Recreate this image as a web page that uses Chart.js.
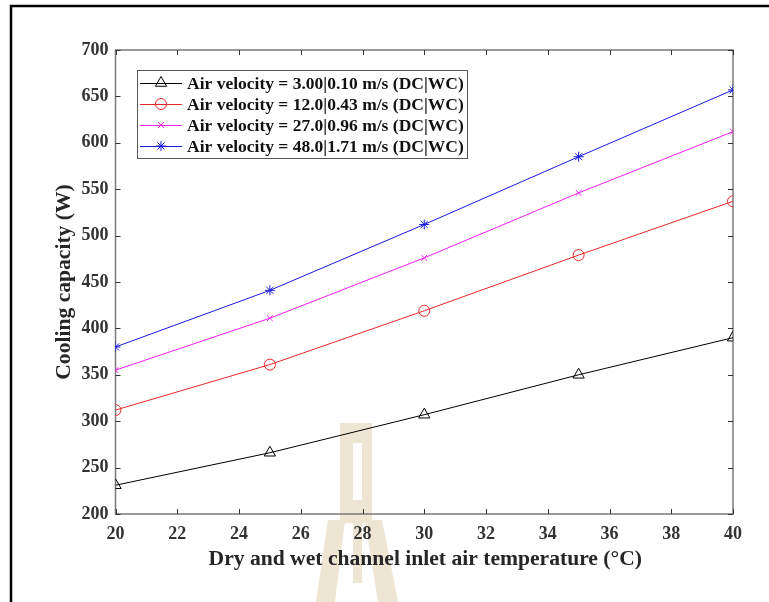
<!DOCTYPE html>
<html>
<head>
<meta charset="utf-8">
<script src="https://cdn.jsdelivr.net/npm/chart.js@4"></script>
<style>
  html, body { margin: 0; padding: 0; background: #fff; overflow: hidden; }
  #wrap { width: 769px; height: 602px; }
</style>
</head>
<body>
<div id="wrap"><canvas id="coolingCapacity"></canvas></div>
<script>
const inletTemps = [20, 25, 30, 35, 40];
const capV300 = [231, 266, 307, 350, 390];
const capV1200 = [312, 361, 419, 479, 537];
const capV2700 = [355, 411, 476, 546, 612];
const capV4800 = [380, 441, 512, 585, 657];
const seriesLabels = [
    'Air velocity = 3.00|0.10 m/s (DC|WC)',
    'Air velocity = 12.0|0.43 m/s (DC|WC)',
    'Air velocity = 27.0|0.96 m/s (DC|WC)',
    'Air velocity = 48.0|1.71 m/s (DC|WC)'
];
const xTitle = 'Dry and wet channel inlet air temperature (°C)';
const yTitle = 'Cooling capacity (W)';

const serif = '"Liberation Serif", "Times New Roman", serif';
const axisGray = '#7a7a7a';

function toPoints(values) {
    return inletTemps.map((t, i) => ({ x: t, y: values[i] }));
}

function series(label, values, color, style, radius) {
    return {
        label: label,
        data: toPoints(values),
        borderColor: color,
        backgroundColor: 'rgba(0,0,0,0)',
        pointBorderColor: color,
        pointBackgroundColor: 'rgba(0,0,0,0)',
        pointStyle: style,
        pointRadius: radius,
        pointBorderWidth: 1,
        borderWidth: 1,
        tension: 0
    };
}

// page frame, faint logo and the axes box with inward ticks on all sides
const decorations = {
    id: 'decorations',
    beforeDraw(chart) {
        const ctx = chart.ctx;
        ctx.save();
        ctx.fillStyle = '#fff';
        ctx.fillRect(0, 0, chart.width, chart.height);

        ctx.fillStyle = '#eee5d3';
        // upper H
        ctx.fillRect(340, 423, 13, 100);
        ctx.fillRect(362, 423, 10, 100);
        ctx.fillRect(353, 423, 9, 20);
        ctx.fillRect(353, 500, 9, 83);
        // legs
        ctx.beginPath();
        ctx.moveTo(328, 520); ctx.lineTo(345, 520); ctx.lineTo(335, 602); ctx.lineTo(316, 602);
        ctx.closePath(); ctx.fill();
        ctx.beginPath();
        ctx.moveTo(365, 520); ctx.lineTo(382, 520); ctx.lineTo(398, 602); ctx.lineTo(378, 602);
        ctx.closePath(); ctx.fill();

        ctx.strokeStyle = '#000';
        ctx.lineWidth = 2.5;
        ctx.beginPath();
        ctx.moveTo(11, chart.height);
        ctx.lineTo(11, 6);
        ctx.lineTo(chart.width, 6);
        ctx.stroke();
        ctx.restore();
    },
    beforeDatasetsDraw(chart) {
        const ctx = chart.ctx;
        const a = chart.chartArea;
        const xs = chart.scales.x;
        const ys = chart.scales.y;
        const len = 5;
        ctx.save();
        ctx.strokeStyle = axisGray;
        ctx.lineWidth = 1.5;
        ctx.strokeRect(a.left, a.top, a.right - a.left, a.bottom - a.top);
        ctx.strokeStyle = '#333';
        ctx.lineWidth = 1;
        ctx.beginPath();
        xs.ticks.forEach(t => {
            const px = Math.round(xs.getPixelForValue(t.value)) + 0.5;
            ctx.moveTo(px, a.bottom); ctx.lineTo(px, a.bottom - len);
            ctx.moveTo(px, a.top); ctx.lineTo(px, a.top + len);
        });
        ys.ticks.forEach(t => {
            const py = Math.round(ys.getPixelForValue(t.value)) + 0.5;
            ctx.moveTo(a.left, py); ctx.lineTo(a.left + len, py);
            ctx.moveTo(a.right, py); ctx.lineTo(a.right - len, py);
        });
        ctx.stroke();

        // axis titles
        ctx.fillStyle = '#262626';
        ctx.font = 'bold 21.6px ' + serif;
        ctx.textAlign = 'center';
        ctx.textBaseline = 'middle';
        ctx.fillText(xTitle, (a.left + a.right) / 2 + 1, 559);
        ctx.translate(64, (a.top + a.bottom) / 2);
        ctx.rotate(-Math.PI / 2);
        ctx.fillText(yTitle, 0, 0);
        ctx.restore();
    },
    afterDraw(chart) {
        const ctx = chart.ctx;
        const box = { x: 137, y: 70, w: 330, h: 88 };
        const rows = [83, 104, 125, 146];
        ctx.save();
        ctx.fillStyle = '#fff';
        ctx.fillRect(box.x, box.y, box.w, box.h);
        ctx.strokeStyle = '#555';
        ctx.lineWidth = 1;
        ctx.strokeRect(box.x + 0.5, box.y + 0.5, box.w, box.h);
        ctx.font = 'bold 17.5px ' + serif;
        ctx.textAlign = 'left';
        ctx.textBaseline = 'middle';
        chart.data.datasets.forEach((ds, i) => {
            const y = rows[i];
            ctx.strokeStyle = ds.borderColor;
            ctx.lineWidth = 1;
            ctx.beginPath();
            ctx.moveTo(140, y + 0.5);
            ctx.lineTo(182, y + 0.5);
            ctx.stroke();
            ctx.fillStyle = 'rgba(0,0,0,0)';
            Chart.helpers.drawPoint(ctx, {
                pointStyle: ds.pointStyle,
                radius: ds.pointRadius,
                borderWidth: 1,
                rotation: 0
            }, 161, y);
            ctx.fillStyle = '#111';
            ctx.fillText(ds.label, 187, y + 1);
        });
        ctx.restore();
    }
};

new Chart(document.getElementById('coolingCapacity'), {
    type: 'line',
    data: {
        datasets: [
            series(seriesLabels[0], capV300, '#000000', 'triangle', 6.5),
            series(seriesLabels[1], capV1200, '#e8282a', 'circle', 5.5),
            series(seriesLabels[2], capV2700, '#f020f0', 'crossRot', 4),
            series(seriesLabels[3], capV4800, '#1a1ae0', 'star', 5)
        ]
    },
    options: {
        responsive: true,
        maintainAspectRatio: false,
        animation: false,
        layout: { padding: { top: 50, right: 36, left: 0, bottom: 0 } },
        plugins: {
            legend: { display: false },
            tooltip: { enabled: false }
        },
        scales: {
            x: {
                type: 'linear',
                min: 20,
                max: 40,
                grid: { display: false, drawTicks: false },
                border: { display: false },
                ticks: {
                    stepSize: 2,
                    padding: 10,
                    color: '#333',
                    font: { family: serif, size: 18, weight: 'bold' }
                },
                afterFit(scale) { scale.height = 88; }
            },
            y: {
                min: 200,
                max: 700,
                grid: { display: false, drawTicks: false },
                border: { display: false },
                ticks: {
                    stepSize: 50,
                    padding: 7,
                    color: '#333',
                    font: { family: serif, size: 18, weight: 'bold' }
                },
                afterFit(scale) { scale.width = 115.5; }
            }
        }
    },
    plugins: [decorations]
});
</script>
</body>
</html>
